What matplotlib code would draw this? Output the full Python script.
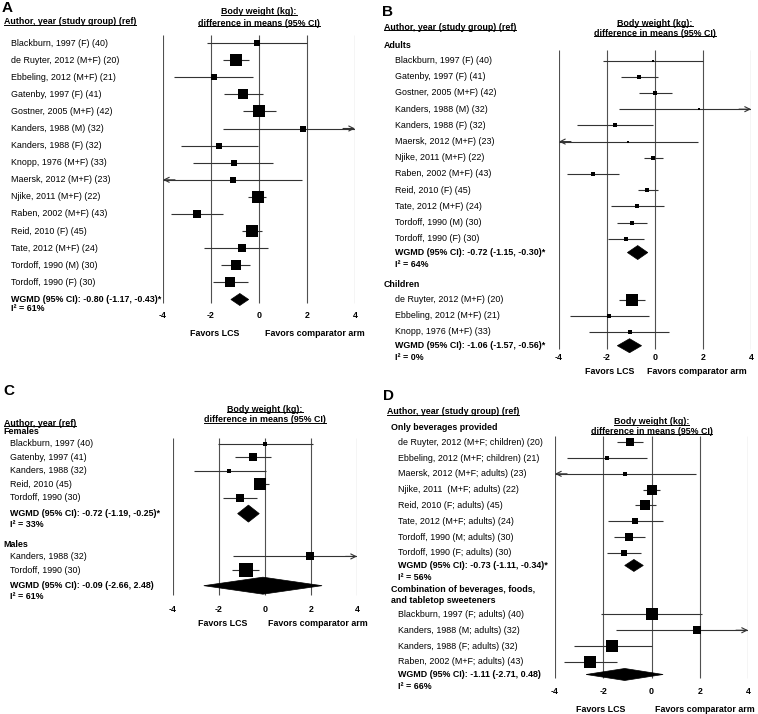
import numpy as np
import matplotlib.pyplot as plt
from matplotlib.patches import Polygon
from matplotlib.lines import Line2D
from matplotlib.transforms import blended_transform_factory, IdentityTransform

W, H = 758, 714
plt.rcParams['font.family'] = ['Liberation Sans', 'DejaVu Sans']
plt.rcParams['font.size'] = 6.4

ticks = [-4, -2, 0, 2, 4]
bw_lines = ["Body weight (kg):", "difference in means (95% CI)"]

# ---- A: all trials
a_labels = ["Blackburn, 1997 (F) (40)", "de Ruyter, 2012 (M+F) (20)", "Ebbeling, 2012 (M+F) (21)",
            "Gatenby, 1997 (F) (41)", "Gostner, 2005 (M+F) (42)", "Kanders, 1988 (M) (32)",
            "Kanders, 1988 (F) (32)", "Knopp, 1976 (M+F) (33)", "Maersk, 2012 (M+F) (23)",
            "Njike, 2011 (M+F) (22)", "Raben, 2002 (M+F) (43)", "Reid, 2010 (F) (45)",
            "Tate, 2012 (M+F) (24)", "Tordoff, 1990 (M) (30)", "Tordoff, 1990 (F) (30)"]
a_mean = [-0.08, -0.96, -1.88, -0.66, 0.0, 1.83, -1.66, -1.06, -1.10, -0.06, -2.58, -0.30, -0.72, -0.96, -1.20]
a_lo = [-2.17, -1.50, -3.54, -1.44, -0.68, -1.50, -3.25, -2.74, -4.02, -0.44, -3.67, -0.72, -2.30, -1.60, -1.90]
a_hi = [2.00, -0.42, -0.25, 0.15, 0.70, 5.16, -0.06, 0.60, 1.78, 0.30, -1.50, 0.11, 0.38, -0.38, -0.45]
a_weight = [4.2, 14.0, 3.1, 8.7, 10.5, 4.2, 4.2, 3.1, 3.1, 14.0, 5.5, 10.5, 5.5, 10.0, 8.7]

# ---- B: adults vs children
b_ad_labels = ["Blackburn, 1997 (F) (40)", "Gatenby, 1997 (F) (41)", "Gostner, 2005 (M+F) (42)",
               "Kanders, 1988 (M) (32)", "Kanders, 1988 (F) (32)", "Maersk, 2012 (M+F) (23)",
               "Njike, 2011 (M+F) (22)", "Raben, 2002 (M+F) (43)", "Reid, 2010 (F) (45)",
               "Tate, 2012 (M+F) (24)", "Tordoff, 1990 (M) (30)", "Tordoff, 1990 (F) (30)"]
b_ad_mean = [-0.08, -0.66, 0.0, 1.83, -1.66, -1.12, -0.08, -2.58, -0.34, -0.74, -0.96, -1.20]
b_ad_lo = [-2.17, -1.42, -0.66, -1.50, -3.25, -4.02, -0.46, -3.67, -0.72, -1.82, -1.58, -1.96]
b_ad_hi = [2.00, 0.11, 0.70, 5.16, -0.08, 1.78, 0.32, -1.50, 0.11, 0.38, -0.34, -0.45]
b_ad_weight = [0.7, 2.0, 2.0, 0.7, 1.0, 0.7, 2.0, 1.3, 2.0, 1.3, 2.0, 1.3]
b_ch_labels = ["de Ruyter, 2012 (M+F) (20)", "Ebbeling, 2012 (M+F) (21)", "Knopp, 1976 (M+F) (33)"]
b_ch_mean = [-0.96, -1.90, -1.06]
b_ch_lo = [-1.50, -3.54, -2.74]
b_ch_hi = [-0.42, -0.25, 0.60]
b_ch_weight = [10.5, 1.5, 1.2]

# ---- C: females vs males
c_f_labels = ["Blackburn, 1997 (40)", "Gatenby, 1997 (41)", "Kanders, 1988 (32)",
              "Reid, 2010 (45)", "Tordoff, 1990 (30)"]
c_f_mean = [0.0, -0.53, -1.56, -0.20, -1.10]
c_f_lo = [-2.05, -1.30, -3.10, -0.43, -1.83]
c_f_hi = [2.10, 0.25, 0.05, 0.18, -0.35]
c_f_weight = [0.78, 5.5, 1.4, 10.5, 7.0]
c_m_labels = ["Kanders, 1988 (32)", "Tordoff, 1990 (30)"]
c_m_mean = [1.95, -0.83]
c_m_lo = [-1.40, -1.45]
c_m_hi = [5.30, -0.25]
c_m_weight = [7.0, 17.0]

# ---- D: type of LCS provided
d_bev_labels = ["de Ruyter, 2012 (M+F; children) (20)", "Ebbeling, 2012 (M+F; children) (21)",
                "Maersk, 2012 (M+F; adults) (23)", "Njike, 2011  (M+F; adults) (22)",
                "Reid, 2010 (F; adults) (45)", "Tate, 2012 (M+F; adults) (24)",
                "Tordoff, 1990 (M; adults) (30)", "Tordoff, 1990 (F; adults) (30)"]
d_bev_mean = [-0.88, -1.83, -1.08, 0.0, -0.25, -0.67, -0.92, -1.13]
d_bev_lo = [-1.42, -3.50, -4.02, -0.37, -0.67, -1.79, -1.54, -1.83]
d_bev_hi = [-0.37, -0.17, 1.83, 0.37, 0.17, 0.46, -0.29, -0.42]
d_bev_weight = [7.0, 1.75, 1.4, 8.7, 8.7, 3.1, 7.0, 4.2]
d_cmb_labels = ["Blackburn, 1997 (F; adults) (40)", "Kanders, 1988 (M; adults) (32)",
                "Kanders, 1988 (F; adults) (32)", "Raben, 2002 (M+F; adults) (43)"]
d_cmb_mean = [0.0, 1.88, -1.63, -2.54]
d_cmb_lo = [-2.10, -1.46, -3.20, -3.63]
d_cmb_hi = [2.10, 5.16, 0.0, -1.42]
d_cmb_weight = [10.5, 5.5, 10.5, 14.6]

panels = {
    'A': [dict(head=None, labels=a_labels, mean=a_mean, lo=a_lo, hi=a_hi, weight=a_weight,
               wgmd=(-0.80, -1.17, -0.43), i2=61)],
    'B': [dict(head="Adults", labels=b_ad_labels, mean=b_ad_mean, lo=b_ad_lo, hi=b_ad_hi,
               weight=b_ad_weight, wgmd=(-0.72, -1.15, -0.30), i2=64),
          dict(head="Children", labels=b_ch_labels, mean=b_ch_mean, lo=b_ch_lo, hi=b_ch_hi,
               weight=b_ch_weight, wgmd=(-1.06, -1.57, -0.56), i2=0)],
    'C': [dict(head="Females", labels=c_f_labels, mean=c_f_mean, lo=c_f_lo, hi=c_f_hi,
               weight=c_f_weight, wgmd=(-0.72, -1.19, -0.25), i2=33),
          dict(head="Males", labels=c_m_labels, mean=c_m_mean, lo=c_m_lo, hi=c_m_hi,
               weight=c_m_weight, wgmd=(-0.09, -2.66, 2.48), i2=61)],
    'D': [dict(head="Only beverages provided", labels=d_bev_labels, mean=d_bev_mean, lo=d_bev_lo,
               hi=d_bev_hi, weight=d_bev_weight, wgmd=(-0.73, -1.11, -0.34), i2=56),
          dict(head="Combination of beverages, foods,\nand tabletop sweeteners", labels=d_cmb_labels,
               mean=d_cmb_mean, lo=d_cmb_lo, hi=d_cmb_hi, weight=d_cmb_weight,
               wgmd=(-1.11, -2.71, 0.48), i2=66)],
}
authors = {'A': "Author, year (study group) (ref)", 'B': "Author, year (study group) (ref)",
           'C': "Author, year (ref)", 'D': "Author, year (study group) (ref)"}

# layout in pixels (from top-left of the figure)
layout = {
    'A': dict(x0=163, x1=355, top=43, pitch=17.1, letter=(2, 8), author=(4, 22), bw=(12, 23),
              head_x=4, lab_x=11, vl=(35, 303), tick_y=316, fav_y=333, fav_x=(-1.83, 2.33),
              after_head=0.9, sum=1.0, i2=0.55, gap=1.3, hline=0.7, dh=6),
    'B': dict(x0=559, x1=751, top=46, pitch=16.2, letter=(382, 12), author=(384, 27), bw=(23, 33),
              head_x=384, lab_x=395, vl=(50, 349), tick_y=358, fav_y=372, fav_x=(-1.88, 1.75),
              after_head=0.9, sum=0.85, i2=0.75, gap=1.25, hline=0.7, dh=7),
    'C': dict(x0=173, x1=357, top=432, pitch=13.6, letter=(3, 391), author=(4, 423), bw=(409, 420),
              head_x=3, lab_x=10, vl=(438, 595), tick_y=610, fav_y=624, fav_x=(-1.83, 2.3),
              after_head=0.85, sum=1.15, i2=0.8, gap=1.5, hline=0.7, dh=8.5),
    'D': dict(x0=555, x1=748, top=428, pitch=15.8, letter=(383, 396), author=(387, 412), bw=(422, 431),
              head_x=391, lab_x=398, vl=(436, 678), tick_y=692, fav_y=709, fav_x=(-2.1, 2.2),
              after_head=0.9, sum=0.8, i2=0.75, gap=0.75, hline=0.7, dh=6),
}

line_col = '#505050'
ci_col = '#333333'
fig = plt.figure(figsize=(W / 100, H / 100), dpi=100)
underline = []


def draw_ci(ax, m, lo, hi, y):
    a, b = max(lo, -4), min(hi, 4)
    ax.plot([a, b], [y, y], color=ci_col, lw=0.8, solid_capstyle='butt')
    if hi > 4:
        ax.annotate('', xy=(4, y), xytext=(3.5, y),
                    arrowprops=dict(arrowstyle='->', color=ci_col, lw=0.8, shrinkA=0, shrinkB=0,
                                    mutation_scale=9))
    if lo < -4:
        ax.annotate('', xy=(-4, y), xytext=(-3.5, y),
                    arrowprops=dict(arrowstyle='->', color=ci_col, lw=0.8, shrinkA=0, shrinkB=0,
                                    mutation_scale=9))


for key, groups in panels.items():
    L = layout[key]
    ax = fig.add_axes([L['x0'] / W, 0, (L['x1'] - L['x0']) / W, 1])
    ax.set_xlim(-4, 4)
    ax.set_ylim(H, 0)
    ax.axis('off')
    tr = blended_transform_factory(fig.transFigure, ax.transData)

    ax.text(L['letter'][0] / W, L['letter'][1], key, transform=tr, fontsize=11,
            fontweight='bold', va='center')
    underline.append(ax.text(L['author'][0] / W, L['author'][1], authors[key], transform=tr,
                             fontweight='bold', va='center'))
    for yy, s in zip(L['bw'], bw_lines):
        underline.append(ax.text(0, yy, s, ha='center', va='center', fontweight='bold', clip_on=False))

    ax.vlines(ticks, L['vl'][0], L['vl'][1], color=line_col, lw=0.8)
    for v in ticks:
        ax.text(v, L['tick_y'], str(v), ha='center', va='center', fontweight='bold', clip_on=False)
    ax.text(L['fav_x'][0], L['fav_y'], "Favors LCS", ha='center', va='center', fontweight='bold',
            clip_on=False)
    ax.text(L['fav_x'][1], L['fav_y'], "Favors comparator arm", ha='center', va='center',
            fontweight='bold', clip_on=False)

    P = L['pitch']
    y = L['top']
    prev = None
    for g in groups:
        if g['head']:
            for k, line in enumerate(g['head'].split('\n')):
                if prev is not None:
                    y += P * (L['hline'] if k else L['gap'])
                ax.text(L['head_x'] / W, y, line, transform=tr, fontweight='bold', va='center')
                prev = 'head'
        for lab, m, lo, hi, w in zip(g['labels'], g['mean'], g['lo'], g['hi'], g['weight']):
            if prev is not None:
                y += P * (L['after_head'] if prev == 'head' else 1.0)
            prev = 'study'
            ax.text(L['lab_x'] / W, y, lab, transform=tr, va='center')
            draw_ci(ax, m, lo, hi, y)
            ax.plot(m, y, marker='s', ms=3.4 * np.sqrt(w) * 0.72, color='black', mew=0, zorder=3)
        y += P * L['sum']
        sm, slo, shi = g['wgmd']
        star = '*' if (shi < 0 or slo > 0) else ''
        ax.text(L['lab_x'] / W, y, f"WGMD (95% CI): {sm:.2f} ({slo:.2f}, {shi:.2f}){star}",
                transform=tr, fontweight='bold', va='center')
        dh = L['dh']
        ax.add_patch(Polygon([(slo, y), (sm, y - dh), (shi, y), (sm, y + dh)], closed=True,
                             facecolor='black', edgecolor='black', lw=0.5, zorder=3))
        y += P * L['i2']
        ax.text(L['lab_x'] / W, y, f"I\u00b2 = {g['i2']}%", transform=tr, fontweight='bold', va='center')
        prev = 'i2'

# underline the column headers
fig.canvas.draw()
r = fig.canvas.get_renderer()
for t in underline:
    bb = t.get_window_extent(renderer=r)
    fig.add_artist(Line2D([bb.x0, bb.x1], [bb.y0 + 1.2, bb.y0 + 1.2], transform=IdentityTransform(),
                          color='black', lw=0.7))

fig.savefig('out.png', dpi=100)
